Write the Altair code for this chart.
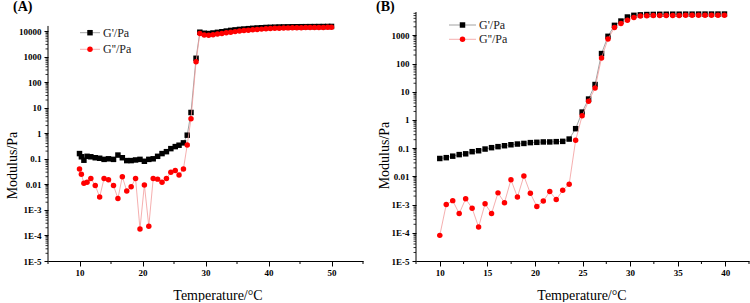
import altair as alt
import pandas as pd

SERIF = "Liberation Serif"

# ---- Panel A: storage (G') and loss (G'') modulus vs temperature ----
temp_a = [10.0, 10.3, 10.7, 11.2, 11.8, 12.5, 13.2, 13.9, 14.6, 15.4,
          16.1, 16.8, 17.5, 18.2, 18.9, 19.6, 20.3, 21.0, 21.7, 22.4,
          23.1, 23.8, 24.5, 25.2, 25.8, 26.5, 27.1, 27.7, 28.5, 29.1,
          29.8, 30.5, 31.2, 31.9, 32.6, 33.3, 34.0, 34.7, 35.4, 36.1,
          36.8, 37.5, 38.2, 38.9, 39.6, 40.3, 41.0, 41.7, 42.4, 43.1,
          43.8, 44.5, 45.2, 45.9, 46.6, 47.3, 48.0, 48.7, 49.4, 50.0]
g1_a = [0.16, 0.12, 0.088, 0.125, 0.12, 0.11, 0.105, 0.095, 0.1, 0.095,
        0.14, 0.11, 0.085, 0.085, 0.09, 0.095, 0.08, 0.095, 0.1, 0.125,
        0.16, 0.19, 0.25, 0.3, 0.34, 0.42, 0.84, 6.5, 860, 9000,
        8200, 8000, 8400, 8900, 9400, 10000, 10600, 11100, 11600, 12000,
        12400, 12800, 13200, 13500, 13800, 14000, 14200, 14400, 14500, 14600,
        14700, 14750, 14800, 14850, 14900, 14950, 15000, 15050, 15100, 15150]
g2_a = [0.04, 0.025, 0.011, 0.012, 0.017, 0.009, 0.0032, 0.017, 0.015, 0.009,
        0.0028, 0.02, 0.0055, 0.008, 0.017, 1.8e-4, 0.0095, 2.3e-4, 0.017, 0.016,
        0.012, 0.017, 0.03, 0.035, 0.023, 0.04, 0.35, 3.7, 630, 8000,
        7000, 6900, 7200, 7600, 8000, 8500, 9000, 9500, 10000, 10400,
        10800, 11200, 11600, 11900, 12200, 12600, 12800, 13000, 13150, 13300,
        13400, 13500, 13600, 13700, 13750, 13800, 13850, 13900, 13950, 14000]

# ---- Panel B ----
temp_b = [10.0, 10.68, 11.36, 12.04, 12.72, 13.4, 14.08, 14.76, 15.44, 16.12,
          16.8, 17.48, 18.16, 18.84, 19.52, 20.2, 20.88, 21.56, 22.24, 22.92,
          23.6, 24.28, 24.96, 25.64, 26.32, 27.0, 27.68, 28.36, 29.04, 29.72,
          30.4, 31.08, 31.76, 32.44, 33.12, 33.8, 34.48, 35.16, 35.84, 36.52,
          37.2, 37.88, 38.56, 39.24, 39.92]
g1_b = [0.043, 0.046, 0.052, 0.059, 0.063, 0.075, 0.081, 0.093, 0.104, 0.113,
        0.122, 0.132, 0.14, 0.147, 0.157, 0.161, 0.166, 0.166, 0.17, 0.174,
        0.21, 0.49, 1.9, 5.5, 18, 225, 920, 2250, 3200, 4450,
        5100, 5300, 5450, 5500, 5550, 5580, 5600, 5600, 5620, 5620,
        5640, 5640, 5650, 5650, 5660]
g2_b = [8.1e-5, 1.0e-3, 1.38e-3, 4.8e-4, 1.6e-3, 7.4e-4, 1.6e-4, 1.07e-3, 4.8e-4, 2.6e-3,
        1.17e-3, 7.6e-3, 1.85e-3, 0.0103, 2.5e-3, 8.5e-4, 1.33e-3, 2.9e-3, 1.5e-3, 3.2e-3,
        5.3e-3, 0.19, 1.4, 4.6, 13.5, 157, 740, 1880, 2600, 3400,
        4250, 4800, 4950, 5000, 5050, 5050, 5080, 5080, 5100, 5100,
        5100, 5120, 5120, 5120, 5130]

# axis ticks
y_ticks = [1e-5, 1e-4, 1e-3, 0.01, 0.1, 1, 10, 100, 1000, 10000]
x_major_a = [10, 20, 30, 40, 50]
x_minor_a = [5, 15, 25, 35, 45, 55]
x_major_b = [10, 15, 20, 25, 30, 35, 40]
x_minor_b = [7.5, 12.5, 17.5, 22.5, 27.5, 32.5, 37.5, 42.5]

Y_LABELS = ("datum.value < 0.005 ? '1E' + round(log(datum.value) / LN10) : "
            "(datum.value >= 1 ? format(datum.value, 'd') : format(datum.value, '~g'))")

one_row = pd.DataFrame({"k": [0]})
PANEL_H = 249


def panel(temps, g1, g2, x_dom, x_major, x_minor, y_scale_top, y_axis_top, w, tag, tag_xy,
          leg_x, leg_y, ytitle_xy, xtitle_x):
    h = PANEL_H
    xs = alt.Scale(domain=x_dom, nice=False, zero=False)
    ys = alt.Scale(type="log", domain=[1e-5, y_scale_top], nice=False)

    x_axis = alt.Axis(
        values=x_major, grid=False, tickSize=5,
        domainColor="black", tickColor="black", domainWidth=1, tickWidth=1,
        labelFont=SERIF, labelFontWeight="bold", labelFontSize=9, labelColor="black",
        labelPadding=2,
        title="Temperature/°C", titleFont=SERIF, titleFontSize=14,
        titleFontWeight="normal", titleColor="black",
        titleX=xtitle_x, titleY=34, titleBaseline="middle",
    )
    y_axis = alt.Axis(
        values=y_ticks, grid=False, labelExpr=Y_LABELS, domain=False,
        tickSize=4, tickColor="black", tickWidth=1,
        labelFont=SERIF, labelFontWeight="bold", labelFontSize=9, labelColor="black",
        labelPadding=3,
        title="Modulus/Pa", titleFont=SERIF, titleFontSize=14,
        titleFontWeight="normal", titleColor="black",
        titleX=ytitle_xy[0], titleY=ytitle_xy[1], titleBaseline="middle",
    )

    def X(field):
        return alt.X(field, scale=xs, axis=x_axis)

    def Y(field):
        return alt.Y(field, scale=ys, axis=y_axis)

    d1 = pd.DataFrame({"T": temps, "value": g1})
    d2 = pd.DataFrame({"T": temps, "value": g2})

    base1 = alt.Chart(d1).encode(x=X("T:Q"), y=Y("value:Q"))
    base2 = alt.Chart(d2).encode(x=X("T:Q"), y=Y("value:Q"))
    line1 = base1.mark_line(color="#8c8c8c", strokeWidth=0.8)
    pts1 = base1.mark_point(shape="square", filled=True, size=30, color="black", opacity=1)
    line2 = base2.mark_line(color="#f29a9a", strokeWidth=0.8)
    pts2 = base2.mark_point(shape="circle", filled=True, size=30, color="red", opacity=1)

    # left axis line, running from the bottom of the scale to the axis top
    y_line = alt.Chart(pd.DataFrame({"value": [y_axis_top], "value2": [1e-5]})).mark_rule(
        color="black", strokeWidth=1
    ).encode(y=Y("value:Q"), y2="value2:Q", x=alt.value(0))

    # minor log ticks on the left axis
    minor = [m * 10.0 ** k for k in range(-5, 5) for m in range(2, 10) if m * 10.0 ** k <= y_axis_top]
    y_minor_ticks = alt.Chart(pd.DataFrame({"value": minor})).mark_rule(
        color="black", strokeWidth=0.8
    ).encode(y=Y("value:Q"), x=alt.value(-2.5), x2=alt.value(0))
    # minor ticks on the bottom axis
    x_minor_ticks = alt.Chart(pd.DataFrame({"T": x_minor})).mark_rule(
        color="black", strokeWidth=1
    ).encode(x=X("T:Q"), y=alt.value(h), y2=alt.value(h + 3))

    # legend
    lx0, lx1 = leg_x
    mx = (lx0 + lx1) / 2
    legend = []
    for yy, col, lcol, shape, txt in [
        (leg_y[0], "black", "#8c8c8c", "square", "G'/Pa"),
        (leg_y[1], "red", "#f29a9a", "circle", "G''/Pa"),
    ]:
        legend.append(alt.Chart(one_row).mark_rule(color=lcol, strokeWidth=0.8).encode(
            x=alt.value(lx0), x2=alt.value(lx1), y=alt.value(yy)))
        legend.append(alt.Chart(one_row).mark_point(
            shape=shape, filled=True, size=30, color=col, opacity=1
        ).encode(x=alt.value(mx), y=alt.value(yy)))
        legend.append(alt.Chart(one_row).mark_text(
            font=SERIF, fontSize=12, align="left", baseline="middle", color="#222222"
        ).encode(x=alt.value(lx1 + 3), y=alt.value(yy), text=alt.value(txt)))

    tag_mark = alt.Chart(one_row).mark_text(
        font=SERIF, fontSize=14, fontWeight="bold", align="left", baseline="middle", color="black"
    ).encode(x=alt.value(tag_xy[0]), y=alt.value(tag_xy[1]), text=alt.value(tag))

    return alt.layer(line1, pts1, line2, pts2, y_line, y_minor_ticks, x_minor_ticks,
                     *legend, tag_mark).properties(width=w, height=h)


# Panel A's left axis stops short of the top: its log scale keeps the same decade
# spacing, with the scale range extended above the drawn axis line.
panel_a = panel(temp_a, g1_a, g2_a, [5, 55], x_major_a, x_minor_a, 55660, 15850, 315, "(A)",
                (-35, -4.7), (32, 52), (20.7, 37.3), (-36, 153), 169.5)
panel_b = panel(temp_b, g1_b, g2_b, [7.5, 42.5], x_major_b, x_minor_b, 6700, 6700, 333, "(B)",
                (-40, -4.7), (33, 60), (13, 27.3), (-32, 143), 165.5)

chart = alt.hconcat(panel_a, panel_b, spacing=12).properties(
    padding={"left": 5, "top": 0, "right": 0, "bottom": 0},
    background="white",
).configure_view(stroke=None)

chart.save("out.html", embed_options={"renderer": "svg", "actions": False})
